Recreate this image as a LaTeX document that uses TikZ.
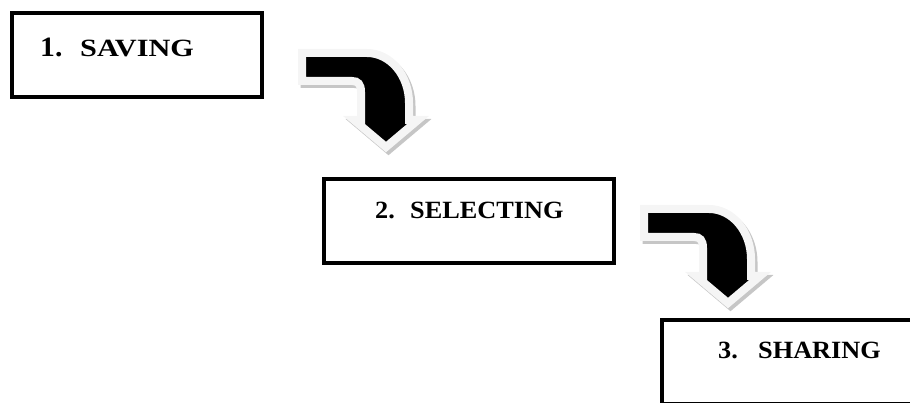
\documentclass[tikz,border=0pt]{standalone}
\usepackage{fontspec}
\setmainfont{Liberation Serif}
\newfontfamily\stepfont{Liberation Serif}[FakeStretch=1.06]
\newfontfamily\widestepfont{Liberation Serif}[FakeStretch=1.22]

\tikzset{
  stepbox/.style={draw=black, line width=4pt, fill=white, inner sep=0pt,
    outer sep=0pt, anchor=north west},
  steplabel/.style={inner sep=0pt, anchor=base west,
    font=\stepfont\bfseries\fontsize{24.8}{27}\selectfont},
  arrowshadow/.style={fill=gray!45, draw=gray!45, line width=8pt, line join=miter},
  arrowbody/.style={fill=black, draw=gray!8, line width=8pt, line join=miter},
  % bent block arrow: horizontal shaft turning down into an arrow head
  bentarrow/.pic={
    \begin{scope}[shift={(2.5,3)}]
      \path[arrowshadow] (-4,-4) -- (61,-4)
        .. controls (84.2,-4) and (103,18.4) .. (103,46)
        -- (103,63) -- (112,63) -- (80,90) -- (48,63) -- (55,63) -- (55,35)
        .. controls (55,27) and (52,24) .. (46,24) -- (-4,24) -- cycle;
    \end{scope}
    \path[arrowbody] (-4,-4) -- (61,-4)
      .. controls (84.2,-4) and (103,18.4) .. (103,46)
      -- (103,63) -- (112,63) -- (80,90) -- (48,63) -- (55,63) -- (55,35)
      .. controls (55,27) and (52,24) .. (46,24) -- (-4,24) -- cycle;
  }
}

\begin{document}
\begin{tikzpicture}[x=1pt, y=-1pt]
  \useasboundingbox (0,0) rectangle (910,403);
  \clip (0,0) rectangle (910,403);

  % step boxes
  \node[stepbox, minimum width=250pt, minimum height=84.5pt] (box1) at (12,13) {};
  \node[stepbox, minimum width=289.5pt, minimum height=84pt] (box2) at (324.3,179.3) {};
  \node[stepbox, minimum width=300pt, minimum height=84pt] (box3) at (662,320.3) {};

  % step titles
  \node[steplabel] (label1) at (40,56.7)
    {\makebox[40pt][l]{\fontsize{28}{30}\selectfont 1.}{\widestepfont\bfseries SAVING}};
  \node[steplabel] (label2) at (375,218.3)
    {\makebox[35pt][l]{2.}SELECTING};
  \node[steplabel] (label3) at (718,358.3)
    {\makebox[40pt][l]{3.}SHARING};

  % arrows between the steps
  \coordinate (turn1) at (306,57);
  \coordinate (turn2) at (648,213);
  \pic at (turn1) {bentarrow};
  \pic at (turn2) {bentarrow};
\end{tikzpicture}
\end{document}
